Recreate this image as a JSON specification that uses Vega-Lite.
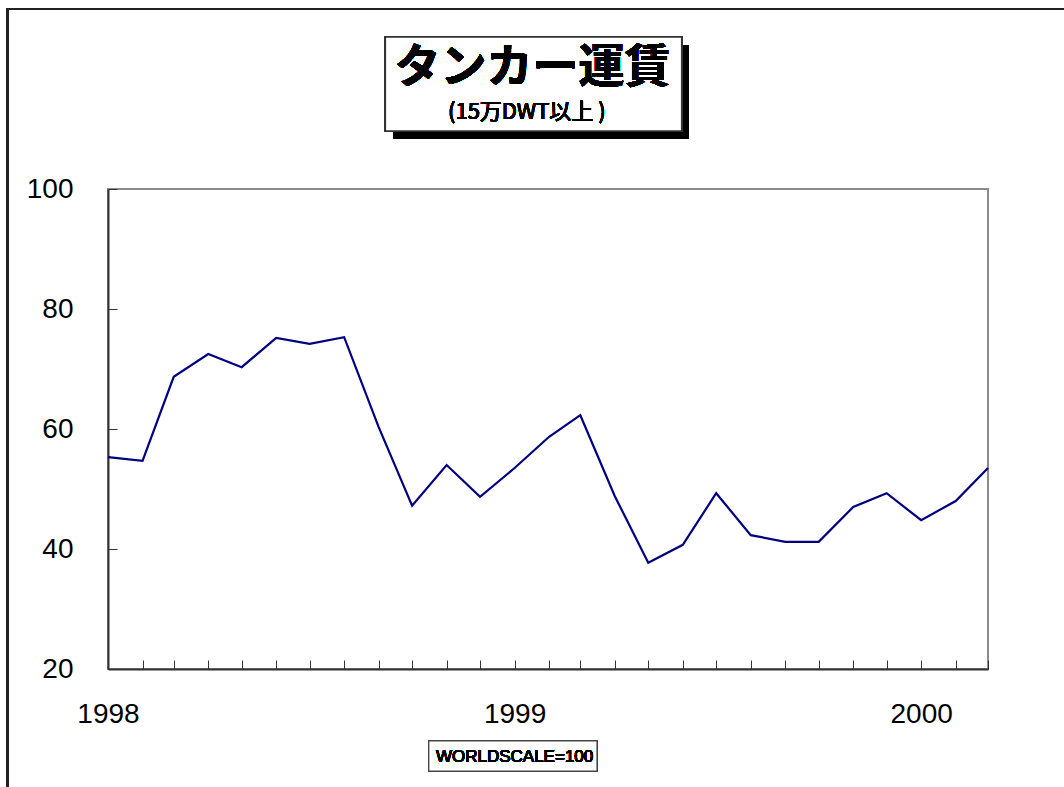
{
  "$schema": "https://vega.github.io/schema/vega-lite/v6.json",
  "width": 880,
  "height": 480,
  "autosize": {"type": "none"},
  "padding": {"left": 108, "top": 189, "right": 76, "bottom": 118},
  "background": "white",
  "config": {
    "view": {"stroke": "#8c8c8c", "strokeWidth": 2},
    "font": "Liberation Sans"
  },
  "data": {
    "values": [
      {"month": "1998-01-01", "rate": 55.3},
      {"month": "1998-02-01", "rate": 54.7},
      {"month": "1998-03-01", "rate": 68.7},
      {"month": "1998-04-01", "rate": 72.5},
      {"month": "1998-05-01", "rate": 70.3},
      {"month": "1998-06-01", "rate": 75.2},
      {"month": "1998-07-01", "rate": 74.2},
      {"month": "1998-08-01", "rate": 75.3},
      {"month": "1998-09-01", "rate": 60.3},
      {"month": "1998-10-01", "rate": 47.2},
      {"month": "1998-11-01", "rate": 54.0},
      {"month": "1998-12-01", "rate": 48.7},
      {"month": "1999-01-01", "rate": 53.5},
      {"month": "1999-02-01", "rate": 58.7},
      {"month": "1999-03-01", "rate": 62.3},
      {"month": "1999-04-01", "rate": 48.8},
      {"month": "1999-05-01", "rate": 37.7},
      {"month": "1999-06-01", "rate": 40.7},
      {"month": "1999-07-01", "rate": 49.3},
      {"month": "1999-08-01", "rate": 42.3},
      {"month": "1999-09-01", "rate": 41.2},
      {"month": "1999-10-01", "rate": 41.2},
      {"month": "1999-11-01", "rate": 47.0},
      {"month": "1999-12-01", "rate": 49.3},
      {"month": "2000-01-01", "rate": 44.8},
      {"month": "2000-02-01", "rate": 48.0},
      {"month": "2000-03-01", "rate": 53.5}
    ]
  },
  "layer": [
    {
      "mark": {"type": "rect", "fill": null, "stroke": "#222", "strokeWidth": 2, "clip": false},
      "encoding": {
        "x": {"datum": {"year": 1997, "month": 10, "date": 3, "utc": true}, "type": "temporal"},
        "x2": {"datum": {"year": 2000, "month": 6, "date": 30, "utc": true}},
        "y": {"datum": 130, "type": "quantitative"},
        "y2": {"datum": -5}
      }
    },
    {
      "mark": {"type": "line", "color": "#000080", "strokeWidth": 2.2},
      "encoding": {
        "x": {
          "field": "month",
          "type": "temporal",
          "scale": {"type": "utc", "domain": [{"year": 1998, "month": 1, "date": 1, "utc": true}, {"year": 2000, "month": 3, "date": 1, "utc": true}], "nice": false},
          "axis": {
            "title": null,
            "grid": false,
            "tickCount": {"interval": "month", "step": 1},
            "labelExpr": "utcmonth(datum.value) == 0 ? utcFormat(datum.value, '%Y') : ''",
            "labelOverlap": false,
            "labelFlush": false,
            "labelFontSize": 28,
            "labelColor": "black",
            "labelPadding": 40,
            "tickSize": -9,
            "tickColor": "#333",
            "tickWidth": 1,
            "domainColor": "#333",
            "domainWidth": 2
          }
        },
        "y": {
          "field": "rate",
          "type": "quantitative",
          "scale": {"domain": [20, 100], "nice": false, "zero": false},
          "axis": {
            "title": null,
            "grid": false,
            "values": [20, 40, 60, 80, 100],
            "labelFontSize": 28,
            "labelColor": "black",
            "labelPadding": 44,
            "tickSize": -9,
            "tickColor": "#333",
            "tickWidth": 1,
            "domainColor": "#333",
            "domainWidth": 2
          }
        }
      }
    },
    {
      "mark": {"type": "rect", "fill": "black", "clip": false},
      "encoding": {
        "x": {"datum": {"year": 1998, "month": 9, "date": 14, "utc": true}, "type": "temporal"},
        "x2": {"datum": {"year": 1999, "month": 6, "date": 6, "utc": true}},
        "y": {"datum": 124.0, "type": "quantitative"},
        "y2": {"datum": 108.33}
      }
    },
    {
      "mark": {"type": "rect", "fill": "white", "stroke": "#333", "strokeWidth": 1.5, "clip": false},
      "encoding": {
        "x": {"datum": {"year": 1998, "month": 9, "date": 7, "utc": true}, "type": "temporal"},
        "x2": {"datum": {"year": 1999, "month": 5, "date": 31, "utc": true}},
        "y": {"datum": 125.33, "type": "quantitative"},
        "y2": {"datum": 109.67}
      }
    },
    {
      "mark": {"type": "text", "font": "Noto Sans CJK JP", "fontSize": 46, "fontWeight": "bold", "color": "black", "align": "center", "baseline": "middle", "clip": false},
      "encoding": {
        "x": {"datum": {"year": 1999, "month": 1, "date": 17, "utc": true}, "type": "temporal"},
        "y": {"datum": 120.2, "type": "quantitative"},
        "text": {"value": "タンカー運賃"}
      }
    },
    {
      "mark": {"type": "text", "font": "Noto Sans CJK JP", "fontSize": 22, "color": "black", "align": "center", "baseline": "middle", "clip": false},
      "encoding": {
        "x": {"datum": {"year": 1999, "month": 1, "date": 12, "utc": true}, "type": "temporal"},
        "y": {"datum": 112.9, "type": "quantitative"},
        "text": {"value": "(15万DWT以上 )"}
      }
    },
    {
      "mark": {"type": "rect", "fill": "white", "stroke": "#444", "strokeWidth": 1.2, "clip": false},
      "encoding": {
        "x": {"datum": {"year": 1998, "month": 10, "date": 16, "utc": true}, "type": "temporal"},
        "x2": {"datum": {"year": 1999, "month": 3, "date": 16, "utc": true}},
        "y": {"datum": 8.0, "type": "quantitative"},
        "y2": {"datum": 3.0}
      }
    },
    {
      "mark": {"type": "text", "font": "Liberation Sans", "fontSize": 17, "color": "black", "align": "center", "baseline": "middle", "clip": false},
      "encoding": {
        "x": {"datum": {"year": 1999, "month": 1, "date": 1, "utc": true}, "type": "temporal"},
        "y": {"datum": 5.4, "type": "quantitative"},
        "text": {"value": "WORLDSCALE=100"}
      }
    }
  ]
}
